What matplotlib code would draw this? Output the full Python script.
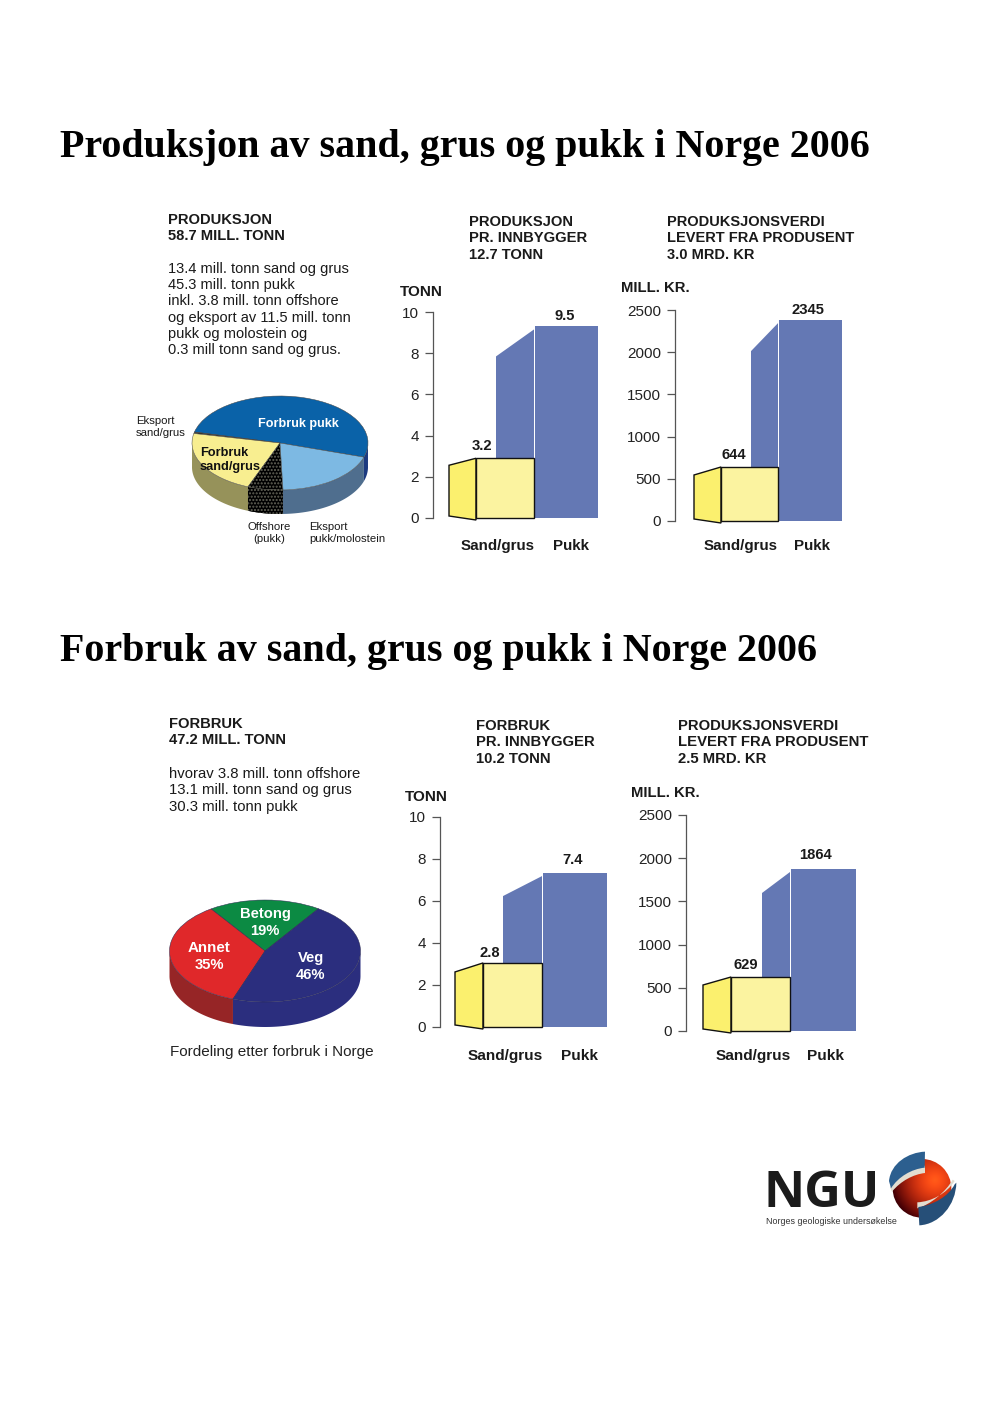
import numpy as np
import matplotlib
matplotlib.use("Agg")
import matplotlib.pyplot as plt
from matplotlib.patches import Polygon, Circle, PathPatch
from matplotlib.path import Path

W, H = 992, 1404
SANS = ["Liberation Sans", "DejaVu Sans"]
SERIF = ["Liberation Serif", "DejaVu Serif"]

# data
kategorier = ["Sand/grus", "Pukk"]
tonn_ticks = [0, 2, 4, 6, 8, 10]
kr_ticks = [0, 500, 1000, 1500, 2000, 2500]

prod_tonn_hoyde = [2.9, 9.3]
prod_tonn_tekst = ["3.2", "9.5"]
prod_kr_hoyde = [640, 2380]
prod_kr_tekst = ["644", "2345"]
forb_tonn_hoyde = [3.05, 7.33]
forb_tonn_tekst = ["2.8", "7.4"]
forb_kr_hoyde = [625, 1875]
forb_kr_tekst = ["629", "1864"]

pie1_navn = ["Forbruk pukk", "Eksport sand/grus", "Forbruk sand/grus", "Offshore", "Eksport pukk/molostein"]
pie1_verdi = [30.0, 0.3, 13.1, 3.8, 11.5]
pie1_farge = ["#0a62a8", "#333333", "#f8ee90", "#000000", "#7db9e3"]
pie1_vegg = ["#1c3a80", "#333333", "#96925a", "#000000", "#4f6e8e"]

pie2_navn = ["Betong", "Annet", "Veg"]
pie2_verdi = [19, 35, 46]
pie2_farge = ["#0c8a43", "#e0282a", "#2b2e7e"]
pie2_vegg = ["#0c8a43", "#962526", "#2b2e7e"]

plt.rcParams["font.family"] = SANS
fig = plt.figure(figsize=(W / 100, H / 100), dpi=100, facecolor="white")


def tekst(x, y, s, size=10.6, weight="normal", color="#1a1a1a", ha="left", family=SANS):
    fig.text(x / W, 1 - (y + 1) / H, s, fontsize=size, fontweight=weight, color=color,
             ha=ha, va="center", family=family)


def px_axes(x0, y0, x1, y1):
    return fig.add_axes([x0 / W, 1 - y1 / H, (x1 - x0) / W, (y1 - y0) / H])


def stolper(spine_x, y_top, y_null, ticks, hoyder, tekster, geo, tekst_pos):
    ax = px_axes(spine_x, y_top, spine_x + 200, y_null)
    ax.patch.set_alpha(0)
    ax.set_xlim(spine_x, spine_x + 200)
    ax.set_ylim(0, ticks[-1])
    for s in ["top", "right", "bottom"]:
        ax.spines[s].set_visible(False)
    ax.spines["left"].set_color("#555555")
    ax.spines["left"].set_linewidth(0.9)
    ax.set_xticks([])
    ax.set_yticks(ticks)
    ax.tick_params(axis="y", length=6, width=0.9, color="#555555", labelsize=11, pad=4, labelcolor="#222222")
    u = ticks[-1] / (y_null - y_top)  # data per pixel

    # pukk: side, then front
    x_s, x_f, x_e, drop = geo["pukk"]
    v = hoyder[1]
    ax.add_patch(Polygon([(x_s, 0), (x_s, v - drop * u), (x_f, v - 3 * u), (x_f, 0)],
                         facecolor="#6478b4", edgecolor="none", zorder=1))
    ax.bar((x_f + x_e) / 2 + 0.5, v, width=x_e - x_f - 1, color="#6478b4", zorder=2)

    # sand/grus
    x_s, x_f, x_e, drop = geo["sand"]
    v = hoyder[0]
    ax.add_patch(Polygon([(x_s, 2 * u), (x_s, v - drop * u), (x_f, v), (x_f, -2 * u)],
                         facecolor="#fbf06e", edgecolor="#111111", linewidth=1.0, zorder=3, clip_on=False))
    ax.bar((x_f + x_e) / 2, v, width=x_e - x_f, color="#fbf3a0", edgecolor="#111111", linewidth=1.0,
           zorder=4, clip_on=False)

    for (x, y), s in zip(tekst_pos, tekster):
        tekst(x, y, s, size=10.6, weight="bold", ha="center")


def kake(cx, cy, a, b, dybde, verdier, farger, vegger, start, kant):
    pad = 3
    ax = px_axes(cx - a - pad, cy - b - pad, cx + a + pad, cy + b + dybde + pad)
    ax.axis("off")
    wedges, _ = ax.pie(verdier, colors=farger, startangle=start, counterclock=True, radius=1,
                       wedgeprops={"linewidth": 0.35, "edgecolor": kant})
    ax.set_aspect("auto")
    ax.set_xlim(-1 - pad / a, 1 + pad / a)
    ax.set_ylim(-1 - (dybde + pad) / b, 1 + pad / b)
    d = dybde / b
    vinkler = start + np.cumsum([0] + list(verdier)) / np.sum(verdier) * 360
    for i in range(len(verdier)):
        t = np.radians(np.linspace(vinkler[i], vinkler[i + 1], 120))
        t = t[np.sin(t) <= 0.02]
        if len(t) < 2:
            continue
        x, y = np.cos(t), np.sin(t)
        pts = np.r_[np.c_[x, y], np.c_[x[::-1], y[::-1] - d]]
        ax.add_patch(Polygon(pts, facecolor=vegger[i], edgecolor="none", zorder=0))
    return ax, wedges, vinkler, d


# titles
tekst(60, 146, "Produksjon av sand, grus og pukk i Norge 2006", size=28.8, weight="bold", color="black", family=SERIF)
tekst(60, 650, "Forbruk av sand, grus og pukk i Norge 2006", size=28.8, weight="bold", color="black", family=SERIF)

# upper text
tekst(168, 219, "PRODUKSJON", weight="bold")
tekst(168, 235, "58.7 MILL. TONN", weight="bold")
for y, s in zip([268, 284, 300, 317, 333, 349],
                ["13.4 mill. tonn sand og grus", "45.3 mill. tonn pukk", "inkl. 3.8 mill. tonn offshore",
                 "og eksport av 11.5 mill. tonn", "pukk og molostein og", "0.3 mill tonn sand og grus."]):
    tekst(168, y, s, size=10.5)
for y, s in zip([221, 237, 254], ["PRODUKSJON", "PR. INNBYGGER", "12.7 TONN"]):
    tekst(469, y, s, weight="bold")
for y, s in zip([221, 237, 254], ["PRODUKSJONSVERDI", "LEVERT FRA PRODUSENT", "3.0 MRD. KR"]):
    tekst(667, y, s, weight="bold", size=10.5)

# lower text
tekst(169, 723, "FORBRUK", weight="bold")
tekst(169, 739, "47.2 MILL. TONN", weight="bold")
for y, s in zip([773, 789, 806], ["hvorav 3.8 mill. tonn offshore", "13.1 mill. tonn sand og grus", "30.3 mill. tonn pukk"]):
    tekst(169, y, s, size=10.7)
for y, s in zip([725, 741, 758], ["FORBRUK", "PR. INNBYGGER", "10.2 TONN"]):
    tekst(476, y, s, weight="bold", size=10.7)
for y, s in zip([725, 741, 758], ["PRODUKSJONSVERDI", "LEVERT FRA PRODUSENT", "2.5 MRD. KR"]):
    tekst(678, y, s, weight="bold", size=10.7)

# bar charts
stolper(433, 312, 518, tonn_ticks, prod_tonn_hoyde, prod_tonn_tekst,
        {"sand": (449, 476, 534, 7), "pukk": (496, 534, 598, 30)}, [(482, 445), (565, 315)])
tekst(400, 291, "TONN", weight="bold", size=11)
tekst(498, 545, kategorier[0], weight="bold", ha="center", size=10.9)
tekst(571, 545, kategorier[1], weight="bold", ha="center", size=10.9)

stolper(675, 310, 521, kr_ticks, prod_kr_hoyde, prod_kr_tekst,
        {"sand": (694, 721, 778, 8), "pukk": (751, 778, 842, 31)}, [(734, 454), (808, 309)])
tekst(621, 287, "MILL. KR.", weight="bold", size=10.7)
tekst(741, 545, kategorier[0], weight="bold", ha="center", size=10.9)
tekst(812, 545, kategorier[1], weight="bold", ha="center", size=10.9)

stolper(440, 817, 1027, tonn_ticks, forb_tonn_hoyde, forb_tonn_tekst,
        {"sand": (455, 483, 542, 9), "pukk": (503, 542, 607, 23)}, [(490, 952), (573, 859)])
tekst(405, 796, "TONN", weight="bold", size=11)
tekst(505, 1055, kategorier[0], weight="bold", ha="center", size=11.1)
tekst(579, 1055, kategorier[1], weight="bold", ha="center", size=11.1)

stolper(686, 815, 1031, kr_ticks, forb_kr_hoyde, forb_kr_tekst,
        {"sand": (703, 731, 790, 8), "pukk": (762, 790, 856, 24)}, [(746, 964), (815, 854)])
tekst(631, 792, "MILL. KR.", weight="bold", size=10.7)
tekst(753, 1055, kategorier[0], weight="bold", ha="center", size=11.1)
tekst(825, 1055, kategorier[1], weight="bold", ha="center", size=11.1)

# pie 1
ax1, w1, v1, d1 = kake(280, 443, 88, 47, 24, pie1_verdi, pie1_farge, pie1_vegg, -17.5, "#444444")
w1[3].set_hatch(".....")
w1[3].set_edgecolor("#66665a")
r0, r1 = np.radians(v1[3]), np.radians(v1[4])
t = np.linspace(r0, r1, 40)
pts = np.r_[np.c_[np.cos(t), np.sin(t)], np.c_[np.cos(t[::-1]), np.sin(t[::-1]) - d1]]
ax1.add_patch(Polygon(pts, facecolor="black", edgecolor="#66665a", hatch=".....", linewidth=0, zorder=0.4))

tekst(298, 423, "Forbruk pukk", size=9.1, weight="bold", color="white", ha="center")
tekst(200, 452, "Forbruk", size=9.2, weight="bold", color="#111111")
tekst(200, 466, "sand/grus", size=9.2, weight="bold", color="#111111")
tekst(136, 420, "Eksport", size=8.2)
tekst(136, 432, "sand/grus", size=8.2)
tekst(269, 526, "Offshore", size=8.2, ha="center")
tekst(269, 538, "(pukk)", size=8.2, ha="center")
tekst(309, 526, "Eksport", size=8.2)
tekst(309, 538, "pukk/molostein", size=8.2)

# pie 2
kake(265, 951, 95.5, 51, 25, pie2_verdi, pie2_farge, pie2_vegg, 56, "#2a2a50")
tekst(265, 913, "Betong", size=10.6, weight="bold", color="white", ha="center")
tekst(265, 930, "19%", size=10.6, weight="bold", color="white", ha="center")
tekst(209, 947, "Annet", size=10.9, weight="bold", color="white", ha="center")
tekst(209, 964, "35%", size=10.6, weight="bold", color="white", ha="center")
tekst(311, 957, "Veg", size=10.6, weight="bold", color="white", ha="center")
tekst(311, 974, "46%", size=10.6, weight="bold", color="white", ha="center")
tekst(169.5, 1051, "Fordeling etter forbruk i Norge", size=11, color="#222222")

# logo
tekst(764, 1193, "NGU", size=36.5, weight="bold", color="#1b1b1b", family=["Open Sans", "Liberation Sans"])
tekst(766, 1221, "Norges geologiske undersøkelse", size=6.4, color="#333333")

lax = px_axes(880, 1145, 965, 1235)
lax.set_xlim(0, 255)
lax.set_ylim(270, 0)
lax.axis("off")

# red core with a dark lower left side
yy, xx = np.mgrid[0:270:200j, 0:255:200j]
rr = np.hypot(xx - 165, yy - 105) / 130
kjerne = np.dstack([np.clip(1.02 - 0.75 * rr ** 1.6, 0, 1), np.clip(0.36 - 0.36 * rr, 0, 1), np.clip(0.10 - 0.08 * rr, 0, 1)])
im = lax.imshow(kjerne, extent=(0, 255, 270, 0), aspect="auto", zorder=1, interpolation="bilinear")
im.set_clip_path(Circle((126, 130), 88, transform=lax.transData))
lax.set_xlim(0, 255)
lax.set_ylim(270, 0)

C4 = Path.CURVE4
koder = [Path.MOVETO, C4, C4, C4, Path.LINETO, C4, C4, C4, Path.CLOSEPOLY]
band1 = Path([(135, 62), (95, 66), (55, 90), (30, 128), (36, 140), (62, 108), (100, 88), (135, 84), (135, 62)], koder)
band2 = Path([(112, 172), (155, 170), (200, 145), (224, 108), (218, 104), (198, 140), (150, 180), (112, 190), (112, 172)], koder)
blaa1 = Path([(135, 20), (85, 22), (32, 55), (27, 108), (33, 130), (55, 95), (95, 72), (134, 68), (135, 20)], koder)
blaa2 = Path([(118, 241), (178, 238), (228, 180), (229, 113), (224, 118), (205, 155), (160, 180), (115, 186), (118, 241)], koder)
for band in [band1, band2]:
    lax.add_patch(PathPatch(band, facecolor="#e2ddd0", edgecolor="none", zorder=2))
lax.add_patch(PathPatch(blaa1, facecolor="#2c5f8f", edgecolor="none", zorder=3))
lax.add_patch(PathPatch(blaa2, facecolor="#264f78", edgecolor="none", zorder=3))

fig.savefig("out.png", dpi=100, facecolor="white")
